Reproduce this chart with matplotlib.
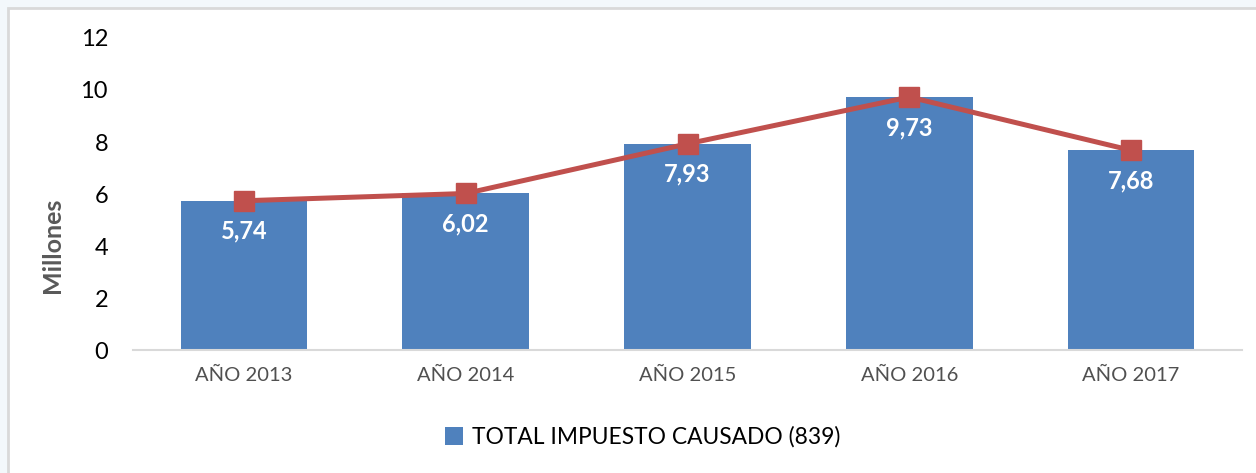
import matplotlib
matplotlib.use('Agg')
import matplotlib.pyplot as plt
from matplotlib.patches import Rectangle

plt.rcParams['font.family'] = ['Lato', 'DejaVu Sans']

# datos
anios = ['AÑO 2013', 'AÑO 2014', 'AÑO 2015', 'AÑO 2016', 'AÑO 2017']
total = [5.74, 6.02, 7.93, 9.73, 7.68]
etiquetas = ['5,74', '6,02', '7,93', '9,73', '7,68']
serie = 'TOTAL IMPUESTO CAUSADO (839)'

fig = plt.figure(figsize=(12.56, 4.73), dpi=100)
fig.patch.set_facecolor('#f3f8fb')
# marco del grafico
marco = Rectangle((8/1256, -0.1), 1.1, 1 - 8/473 + 0.1, transform=fig.transFigure,
                  facecolor='white', edgecolor='#d9d9d9', lw=2, zorder=-10)
fig.add_artist(marco)

ax = fig.add_axes([133/1256, 1 - 350/473, (1242 - 133)/1256, (350 - 38)/473])
ax.set_facecolor('none')
x = range(len(anios))
bars = ax.bar(x, total, width=0.57, color='#4f81bd', label=serie, zorder=2)
ax.plot(x, total, color='#c0504d', lw=3.6, marker='s', markersize=14, zorder=3)

for i, v in enumerate(total):
    ax.annotate(etiquetas[i], (i, v), xytext=(0, -22), textcoords='offset points',
                ha='center', va='center', color='white', fontsize=17, fontweight='bold', zorder=4)

ax.set_xlim(-0.5, 4.5)
ax.set_ylim(0, 12)
ax.set_yticks([0, 2, 4, 6, 8, 10, 12])
ax.set_xticks(list(x))
ax.set_xticklabels(anios, fontsize=14.5, color='#505050')
ax.tick_params(axis='y', labelsize=17, length=0, pad=18)
ax.tick_params(axis='x', length=0, pad=12)
for s in ['top', 'right', 'left']:
    ax.spines[s].set_visible(False)
ax.spines['bottom'].set_color('#d9d9d9')
ax.spines['bottom'].set_linewidth(1.5)
fig.text(52/1256, 1 - 245/473, 'Millones', rotation=90, ha='center', va='center',
         fontsize=18, fontweight='bold', color='#595959')

ax.legend(handles=[bars], loc='center', bbox_to_anchor=(643/1256, 1 - 437/473),
          bbox_transform=fig.transFigure, frameon=False, fontsize=16.4,
          handlelength=0.8, handleheight=0.8, handletextpad=0.4)

fig.savefig('out.png', dpi=100)
